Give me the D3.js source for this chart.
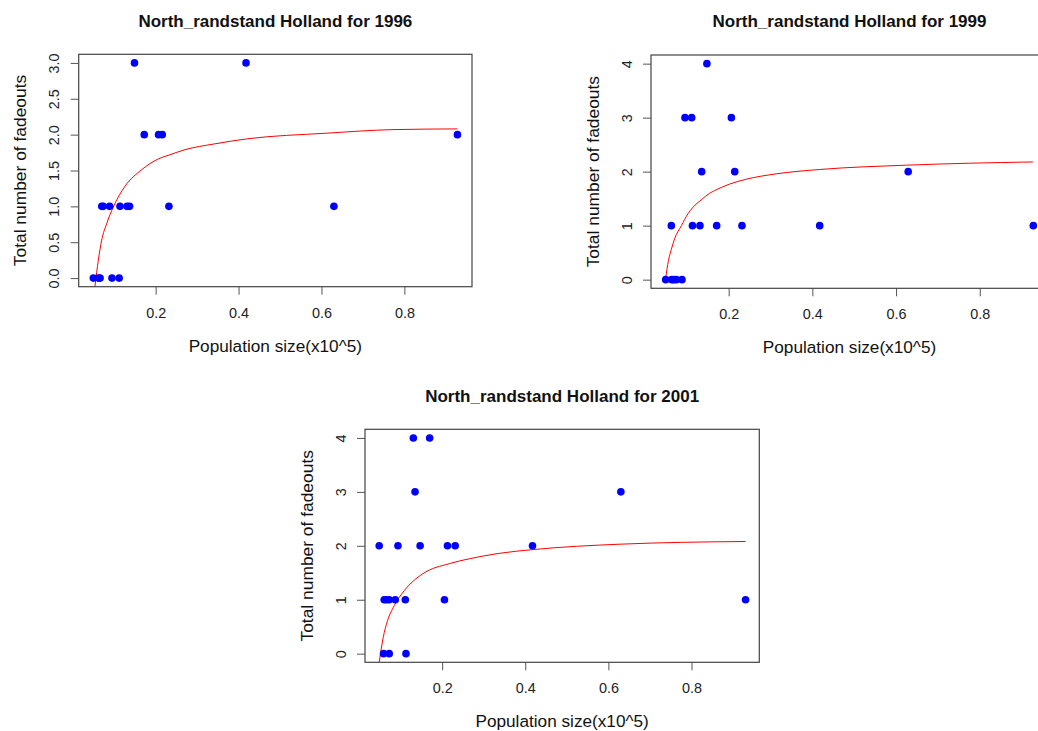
<!DOCTYPE html>
<html>
<head>
<meta charset="utf-8">
<script src="https://cdn.jsdelivr.net/npm/d3@7"></script>
<style>
  html, body { margin: 0; padding: 0; background: #fff; }
  svg { display: block; font-family: "Liberation Sans", Arial, sans-serif; }
</style>
</head>
<body>
<div id="chart"></div>
<script>
// ── Data ──
const titles = [
  "North_randstand Holland for 1996",
  "North_randstand Holland for 1999",
  "North_randstand Holland for 2001"
];
const xLabel = "Population size(x10^5)";
const yLabel = "Total number of fadeouts";

const xTicks = [0.2, 0.4, 0.6, 0.8];
const yTicks1996 = [0, 0.5, 1, 1.5, 2, 2.5, 3];
const yTicksCount = [0, 1, 2, 3, 4];

// [population, fadeouts]
const points1996 = [
  [0.0497, 0], [0.062, 0], [0.066, 0], [0.0947, 0], [0.112, 0],
  [0.070, 1], [0.0735, 1], [0.089, 1], [0.114, 1], [0.131, 1], [0.137, 1], [0.232, 1], [0.630, 1],
  [0.1725, 2], [0.207, 2], [0.216, 2], [0.928, 2],
  [0.149, 3], [0.418, 3]
];
const points1999 = [
  [0.0495, 0], [0.0638, 0], [0.069, 0], [0.075, 0], [0.0885, 0],
  [0.063, 1], [0.1135, 1], [0.1314, 1], [0.1713, 1], [0.2318, 1], [0.4175, 1], [0.928, 1],
  [0.1355, 2], [0.2145, 2], [0.629, 2],
  [0.0956, 3], [0.1116, 3], [0.2065, 3],
  [0.148, 4]
];
const points2001 = [
  [0.059, 0], [0.0727, 0], [0.113, 0],
  [0.0606, 1], [0.066, 1], [0.0727, 1], [0.0872, 1], [0.1114, 1], [0.2056, 1], [0.930, 1],
  [0.0486, 2], [0.0937, 2], [0.147, 2], [0.2128, 2], [0.2314, 2], [0.4174, 2],
  [0.1348, 3], [0.630, 3],
  [0.1307, 4], [0.170, 4]
];

// fitted curves (red)
const fit1996 = [
  [0.0535, -0.12], [0.0617, 0.25], [0.0699, 0.53], [0.0819, 0.76], [0.0978, 0.99],
  [0.126, 1.28], [0.166, 1.51], [0.206, 1.66], [0.2345, 1.72], [0.2706, 1.79],
  [0.341, 1.87], [0.419, 1.94], [0.612, 2.02], [0.7725, 2.07], [0.928, 2.08]
];
const fit1999 = [
  [0.0495, 0.03], [0.056, 0.35], [0.063, 0.56], [0.071, 0.76], [0.087, 1.0],
  [0.1027, 1.22], [0.1147, 1.34], [0.1347, 1.48], [0.1546, 1.6], [0.1665, 1.65],
  [0.2024, 1.77], [0.242, 1.86], [0.314, 1.96], [0.4175, 2.04], [0.625, 2.12], [0.927, 2.18]
];
const fit2001 = [
  [0.0486, -0.16], [0.0582, 0.30], [0.0686, 0.61], [0.0848, 0.89], [0.109, 1.17],
  [0.153, 1.48], [0.2176, 1.67], [0.266, 1.76], [0.337, 1.86], [0.419, 1.93],
  [0.628, 2.03], [0.930, 2.08]
];

const xDomain = [0.0144, 0.9631];
const yDomain1996 = [-0.12, 3.12];
const yDomainCount = [-0.16, 4.16];

// ── Layout ──
const W = 1038, H = 731;
const panels = [
  { box: { l: 78.7, t: 54.3, r: 472, b: 286.7 }, title: titles[0], pts: points1996, fit: fit1996,
    yDomain: yDomain1996, yTicks: yTicks1996, fmt: d3.format(".1f") },
  { box: { l: 651, t: 55, r: 1048, b: 288.3 }, title: titles[1], pts: points1999, fit: fit1999,
    yDomain: yDomainCount, yTicks: yTicksCount, fmt: d3.format("d") },
  { box: { l: 365, t: 429.3, r: 759.3, b: 662.3 }, title: titles[2], pts: points2001, fit: fit2001,
    yDomain: yDomainCount, yTicks: yTicksCount, fmt: d3.format("d") }
];

const svg = d3.select("#chart").append("svg")
  .attr("width", W)
  .attr("height", H);

svg.append("rect").attr("width", W).attr("height", H).attr("fill", "#fff");

panels.forEach((p, i) => drawPanel(p, i));

function drawPanel(p, i) {
  const { l, t, r, b } = p.box;
  const x = d3.scaleLinear().domain(xDomain).range([l, r]);
  const y = d3.scaleLinear().domain(p.yDomain).range([b, t]);
  const g = svg.append("g");

  const clipId = `clip-${i}`;
  svg.append("clipPath").attr("id", clipId)
    .append("rect").attr("x", l).attr("y", t).attr("width", r - l).attr("height", b - t);

  // ticks
  const xAxis = g.append("g")
    .attr("transform", `translate(0,${b})`)
    .call(d3.axisBottom(x).tickValues(xTicks).tickSize(8).tickSizeOuter(0).tickFormat(d3.format(".1f")));
  xAxis.select(".domain").remove();
  xAxis.selectAll("line").attr("stroke", "#555");
  xAxis.selectAll("text")
    .attr("y", 31).attr("dy", null)
    .attr("fill", "#222")
    .style("font-size", "14.4px");

  const yAxis = g.append("g")
    .attr("transform", `translate(${l},0)`)
    .call(d3.axisLeft(y).tickValues(p.yTicks).tickSize(8).tickSizeOuter(0).tickFormat(p.fmt));
  yAxis.select(".domain").remove();
  yAxis.selectAll("line").attr("stroke", "#555");
  yAxis.selectAll("text")
    .attr("x", null).attr("dy", null)
    .attr("transform", "translate(-19.4,0) rotate(-90)")
    .attr("text-anchor", "middle")
    .attr("fill", "#222")
    .style("font-size", "14.4px");

  // fitted curve
  const line = d3.line()
    .x(d => x(d[0]))
    .y(d => y(d[1]))
    .curve(d3.curveMonotoneX);

  g.append("path")
    .datum(p.fit)
    .attr("clip-path", `url(#${clipId})`)
    .attr("d", line)
    .attr("fill", "none")
    .attr("stroke", "#ff0000")
    .attr("stroke-width", 1);

  // points
  g.append("g").attr("clip-path", `url(#${clipId})`)
    .selectAll("circle")
    .data(p.pts)
    .join("circle")
    .attr("cx", d => x(d[0]))
    .attr("cy", d => y(d[1]))
    .attr("r", 3.8)
    .attr("fill", "#0000ff");

  // frame
  g.append("rect")
    .attr("x", l).attr("y", t)
    .attr("width", r - l).attr("height", b - t)
    .attr("fill", "none")
    .attr("stroke", "#444")
    .attr("stroke-width", 1.2);

  // title and axis labels
  g.append("text")
    .attr("x", (l + r) / 2)
    .attr("y", t - 27.8)
    .attr("text-anchor", "middle")
    .style("font-size", "17px")
    .style("font-weight", "bold")
    .attr("fill", "#111")
    .text(p.title);

  g.append("text")
    .attr("x", (l + r) / 2)
    .attr("y", b + 65)
    .attr("text-anchor", "middle")
    .style("font-size", "17.2px")
    .attr("fill", "#111")
    .text(xLabel);

  g.append("text")
    .attr("transform", `translate(${l - 52.5},${(t + b) / 2}) rotate(-90)`)
    .attr("text-anchor", "middle")
    .style("font-size", "17.4px")
    .attr("fill", "#111")
    .text(yLabel);
}
</script>
</body>
</html>
